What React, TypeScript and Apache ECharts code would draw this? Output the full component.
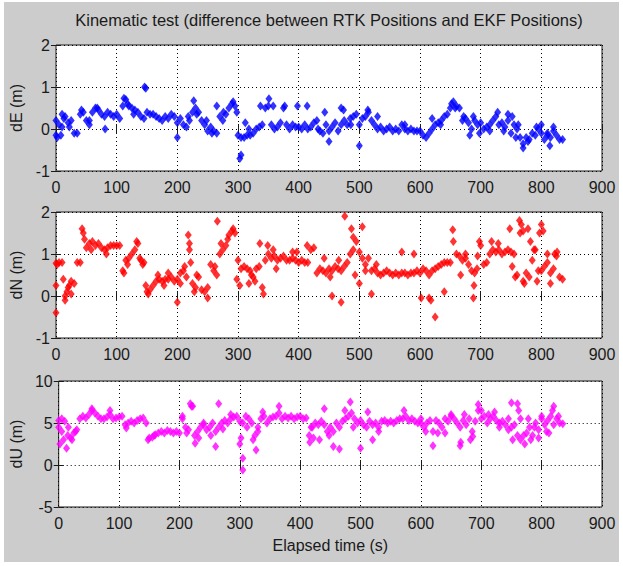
import React, { useEffect, useRef } from "react";
import * as echarts from "echarts";

// Sampling of the main track: one reading every 5 s from 0 to 835 s
const SAMPLE_STEP = 5;
const SAMPLE_COUNT = 168;
const TIME = Array.from({ length: SAMPLE_COUNT }, (_, i) => i * SAMPLE_STEP);

// dE (m), main track
const DE = [
  -0.15, 0.1, 0.05, 0.3, 0.15, 0.2, -0.1, -0.1, 0.35, 0.4,
  0.2, 0.1, 0.4, 0.5, 0.45, 0.35, 0.3, 0.4, 0.35, 0.3,
  0.35, 0.25, 0.55, 0.7, 0.55, 0.5, 0.45, 0.4, 0.3, 0.25,
  0.4, 0.35, 0.35, 0.3, 0.25, 0.2, 0.3, 0.25, 0.35, 0.3,
  0.15, 0.25, 0.1, 0.05, 0.2, 0.4, 0.5, 0.4, 0.2, 0.1,
  -0.05, 0.05, -0.05, -0.1, 0.3, 0.2, 0.35, 0.5, 0.6, 0.55,
  -0.15, -0.2, -0.2, -0.15, -0.15, -0.1, 0.0, 0.05, 0.1, 0.5,
  0.55, 0.1, 0.0, 0.05, 0.15, 0.5, 0.1, 0.0, 0.1, 0.05,
  0.05, 0.0, 0.1, 0.0, 0.05, 0.15, 0.2, -0.05, -0.1, 0.1,
  -0.05, 0.05, 0.15, -0.05, 0.1, 0.2, 0.1, 0.25, 0.3, 0.35,
  0.1, 0.25, 0.3, 0.4, 0.2, 0.1, 0.0, 0.05, -0.05, 0.0,
  0.05, -0.05, 0.0, -0.05, 0.1, 0.0, -0.05, 0.0, -0.05, -0.05,
  -0.05, -0.15, -0.2, -0.1, 0.0, 0.1, 0.15, 0.2, 0.3, 0.35,
  0.5, 0.65, 0.55, 0.5, 0.2, 0.25, 0.15, 0.0, 0.2, 0.1,
  0.15, 0.0, 0.05, 0.1, 0.2, 0.3, 0.1, 0.15, 0.05, 0.2,
  -0.1, 0.1, 0.0, -0.2, -0.35, -0.2, -0.25, -0.1, -0.15, 0.0,
  -0.1, -0.25, -0.15, -0.2, -0.05, -0.15, -0.25, -0.25,
];

// dE (m), scattered readings [time, value]
const DE_EXTRA: [number, number][] = [
  [0, 0.2], [2, -0.2], [8, -0.15], [10, 0.35], [13, 0.25], [22, 0.05], [42, 0.45],
  [55, 0.2], [68, 0.5], [81, 0.0], [112, 0.73], [118, 0.6], [128, 0.35], [146, 1.0],
  [148, 0.97], [200, -0.2], [218, 0.3], [227, 0.67], [232, 0.35], [248, 0.2],
  [257, -0.1], [265, 0.55], [276, 0.4], [292, 0.65], [298, 0.4], [303, -0.7],
  [305, -0.62], [312, 0.15], [318, 0.0], [337, 0.55], [351, 0.72], [358, 0.55],
  [377, 0.55], [398, 0.55], [414, 0.55], [432, 0.0], [443, 0.4], [450, -0.3],
  [470, 0.5], [474, 0.45], [486, 0.1], [500, -0.4], [514, 0.45], [530, 0.3],
  [575, 0.1], [620, 0.25], [634, 0.1], [652, 0.6], [658, 0.5], [672, 0.3],
  [682, -0.15], [688, 0.3], [698, -0.1], [715, -0.05], [728, 0.4], [738, -0.05],
  [745, 0.35], [752, 0.3], [758, -0.2], [762, 0.1], [770, -0.45], [778, -0.3],
  [792, 0.05], [800, 0.1], [810, -0.1], [814, -0.4], [820, 0.05],
];

// dN (m), main track
const DN = [
  0.78, 0.8, 0.8, 0.0, 0.2, 0.35, 0.3, 0.8, 0.8, 1.5,
  1.15, 1.25, 1.3, 1.2, 1.25, 1.15, 1.1, 1.15, 1.2, 1.2,
  1.2, 1.2, 0.6, 0.85, 0.9, 1.0, 1.1, 1.25, 0.85, 0.8,
  0.1, 0.15, 0.25, 0.35, 0.4, 0.35, 0.4, 0.4, 0.45, 0.35,
  0.4, 0.55, 0.6, 0.45, 1.1, 0.3, 0.2, 0.45, 0.15, 0.1,
  0.2, 0.75, 0.6, 0.5, 1.0, 1.1, 1.2, 1.45, 1.55, 1.5,
  0.85, 0.65, 0.7, 0.65, 0.6, 0.45, 0.65, 0.7, 0.2, 0.85,
  1.0, 0.9, 0.95, 0.85, 0.9, 0.95, 0.85, 0.85, 0.9, 0.85,
  0.8, 0.85, 0.8, 0.8, 1.1, 1.15, 0.55, 0.65, 0.6, 0.55,
  0.65, 0.6, 0.7, 0.65, 0.6, 0.7, 0.8, 1.0, 1.1, 1.3,
  1.05, 0.9, 0.75, 0.9, 0.6, 0.65, 0.55, 0.5, 0.55, 0.6,
  0.55, 0.5, 0.55, 0.5, 0.55, 0.55, 0.5, 0.55, 0.55, 0.6,
  0.55, 0.65, 0.6, 0.5, 0.6, 0.65, 0.7, 0.75, 0.8, 0.8,
  0.8, 1.3, 1.0, 0.95, 0.85, 0.9, 0.75, 0.6, 0.55, 0.95,
  1.2, 0.75, 0.8, 1.0, 1.1, 1.05, 1.1, 1.0, 1.05, 1.1,
  1.05, 1.0, 0.5, 1.5, 0.35, 0.55, 0.45, 0.85, 1.1, 0.6,
  0.6, 0.7, 0.8, 0.55, 0.65, 0.95, 0.45, 0.4,
];

// dN (m), scattered readings [time, value]
const DN_EXTRA: [number, number][] = [
  [0, 0.25], [0, -0.4], [2, 0.75], [12, 0.4], [15, -0.1], [18, 0.1], [22, 0.25],
  [25, 0.05], [43, 1.6], [47, 1.35], [58, 1.1], [83, 1.0], [112, 0.55], [118, 0.75],
  [133, 1.3], [138, 0.9], [143, 0.75], [148, 0.25], [152, 0.05], [168, 0.5],
  [178, 0.25], [185, 0.55], [200, -0.15], [205, 0.3], [212, 0.7], [218, 1.45],
  [220, 1.25], [222, 0.8], [228, 0.1], [232, 0.5], [250, -0.05], [262, 0.7],
  [266, 1.78], [272, 1.25], [283, 1.35], [292, 1.6], [298, 0.4], [303, 0.25],
  [318, 0.3], [322, 0.5], [328, 0.35], [336, 1.25], [342, 0.05], [349, 1.2],
  [358, 1.1], [363, 0.65], [390, 1.05], [397, 1.05], [414, 1.2], [442, 0.9],
  [452, 0.45], [455, 0.0], [466, 0.85], [470, -0.15], [476, 1.9], [487, 1.6],
  [490, 1.4], [493, 0.5], [500, 0.3], [505, 1.65], [510, 0.6], [520, 0.05],
  [528, 0.75], [570, 1.05], [590, 1.0], [602, -0.05], [615, -0.05], [618, -0.1],
  [625, -0.5], [640, 0.1], [654, 1.58], [667, 0.5], [675, 1.0], [688, -0.05],
  [689, 0.25], [694, 0.65], [698, 1.3], [718, 1.3], [729, 1.25], [748, 1.6],
  [752, 0.7], [757, 0.45], [764, 1.8], [767, 1.7], [770, 1.55], [772, 0.3],
  [778, 1.6], [782, 1.3], [788, 1.1], [793, 0.35], [797, 1.5], [800, 1.7],
  [803, 1.55], [810, 1.0], [815, 0.3], [822, 1.0], [826, 1.05],
];

// dU (m), main track
const DU = [
  5.3, 4.0, 5.2, 3.5, 3.2, 3.8, 4.2, 5.5, 5.8, 5.6,
  6.0, 6.5, 6.2, 5.8, 5.5, 5.5, 5.7, 6.0, 5.5, 5.6,
  5.7, 5.8, 4.8, 5.0, 5.2, 5.0, 5.3, 5.5, 5.6, 5.0,
  3.2, 3.3, 3.6, 3.8, 4.0, 3.8, 4.1, 4.0, 3.8, 4.0,
  3.8, 5.5, 4.5, 4.2, 7.0, 3.5, 4.0, 4.5, 4.8, 4.2,
  4.5, 5.0, 4.0, 4.5, 5.0, 5.3, 5.0, 5.5, 5.7, 5.8,
  5.2, 5.0, 5.8, 5.5, 5.0, 3.5, 4.5, 5.5, 5.8, 5.0,
  5.5, 5.7, 5.8, 6.2, 5.5, 5.8, 5.6, 5.8, 5.5, 5.7,
  5.8, 5.5, 5.6, 3.5, 4.5, 5.0, 4.8, 5.2, 4.8, 4.0,
  4.5, 4.0, 5.0, 4.5, 5.2, 5.5, 5.8, 6.2, 5.5, 5.0,
  5.3, 4.8, 4.5, 5.2, 4.8, 5.0, 4.5, 5.2, 5.3, 5.0,
  5.2, 5.0, 5.3, 5.5, 5.5, 5.8, 5.3, 5.5, 5.2, 5.0,
  5.0, 4.5, 5.0, 5.3, 4.0, 5.3, 5.0, 4.5, 5.5, 5.2,
  5.8, 5.5, 5.0, 4.5, 5.3, 4.8, 5.5, 4.0, 5.2, 6.5,
  5.5, 5.8, 5.0, 5.5, 5.8, 5.3, 5.0, 5.2, 4.8, 5.5,
  4.5, 4.8, 3.5, 5.5, 3.5, 3.8, 4.5, 3.5, 5.0, 4.2,
  5.5, 4.8, 5.3, 5.8, 4.8, 5.5, 5.0, 4.9,
];

// dU (m), scattered readings [time, value]
const DU_EXTRA: [number, number][] = [
  [0, 4.5], [2, 2.5], [5, 5.5], [8, 3.0], [13, 2.0], [16, 4.5], [22, 3.0], [28, 4.0],
  [55, 6.7], [85, 6.5], [112, 4.4], [148, 3.0], [158, 3.5], [205, 5.8], [212, 3.8],
  [218, 7.3], [222, 7.0], [226, 2.6], [232, 3.2], [240, 5.0], [252, 3.5], [260, 2.2],
  [265, 7.3], [272, 4.3], [285, 6.0], [300, 2.5], [302, 3.2], [305, 0.8], [305, -0.6],
  [312, 4.5], [322, 3.0], [327, 1.8], [330, 4.0], [338, 6.3], [365, 7.0], [416, 2.7],
  [418, 4.5], [422, 3.2], [432, 3.0], [440, 6.7], [448, 3.5], [455, 2.2], [465, 1.9],
  [474, 6.5], [483, 7.5], [488, 4.5], [500, 2.0], [512, 6.3], [520, 3.0], [530, 4.0],
  [572, 6.5], [600, 5.5], [608, 4.0], [620, 2.3], [628, 3.8], [640, 3.8], [650, 6.0],
  [665, 2.3], [666, 2.7], [672, 6.0], [682, 3.0], [686, 3.4], [695, 7.2], [700, 6.5],
  [712, 6.0], [722, 6.3], [730, 4.5], [745, 4.2], [750, 7.4], [752, 3.0], [760, 7.3],
  [762, 6.5], [765, 3.0], [772, 2.5], [778, 5.5], [782, 3.0], [788, 4.5], [795, 3.2],
  [800, 5.8], [808, 4.0], [812, 3.8], [818, 6.5], [820, 7.0], [828, 5.8],
];

const PANELS = [
  { name: "dE (m)", values: DE, extra: DE_EXTRA, color: "#0000ff", min: -1, max: 2, interval: 1 },
  { name: "dN (m)", values: DN, extra: DN_EXTRA, color: "#ff0000", min: -1, max: 2, interval: 1 },
  { name: "dU (m)", values: DU, extra: DU_EXTRA, color: "#ff00ff", min: -5, max: 10, interval: 5 },
];

const TITLE = "Kinematic test (difference between RTK Positions and EKF Positions)";
const X_NAME = "Elapsed time (s)";
const X_MIN = 0;
const X_MAX = 900;
const X_STEP = 100;

const FONT = "'Liberation Sans', Arial, Helvetica, sans-serif";
const INK = "#1a1a1a";
const PLOT_LEFT = 56;
const PLOT_WIDTH = 546;
const PLOT_HEIGHT = 126;
const PLOT_TOPS = [45, 212, 381];

export default function App() {
  const ref = useRef<HTMLDivElement>(null);

  useEffect(() => {
    if (!ref.current) return;
    const chart = echarts.init(ref.current, undefined, { renderer: "svg" });

    const grids = PLOT_TOPS.map((top) => ({
      left: PLOT_LEFT,
      top,
      width: PLOT_WIDTH,
      height: PLOT_HEIGHT,
      show: true,
      backgroundColor: "#ffffff",
      borderColor: INK,
      borderWidth: 1,
    }));

    const tickStyle = { show: true, inside: true, length: 5, lineStyle: { color: INK, width: 1 } };
    const gridLine = { show: true, lineStyle: { color: "#000", width: 1, type: [1, 3] as number[] } };
    const labelStyle = { color: INK, fontFamily: FONT, fontSize: 16 };
    const nameStyle = { color: INK, fontFamily: FONT, fontSize: 16 };

    const xAxes: any[] = [];
    const yAxes: any[] = [];
    PANELS.forEach((p, i) => {
      xAxes.push({
        type: "value",
        gridIndex: i,
        position: "bottom",
        min: X_MIN,
        max: X_MAX,
        interval: X_STEP,
        axisLine: { show: false },
        axisTick: tickStyle,
        splitLine: gridLine,
        axisLabel: { ...labelStyle, margin: 8 },
        ...(i === PANELS.length - 1
          ? { name: X_NAME, nameLocation: "middle", nameGap: 30, nameTextStyle: nameStyle }
          : {}),
      });
      yAxes.push({
        type: "value",
        gridIndex: i,
        position: "left",
        min: p.min,
        max: p.max,
        interval: p.interval,
        axisLine: { show: false },
        axisTick: tickStyle,
        splitLine: gridLine,
        axisLabel: { ...labelStyle, margin: 6 },
        name: p.name,
        nameLocation: "middle",
        nameRotate: 90,
        nameGap: 22,
        nameTextStyle: nameStyle,
      });
    });
    // mirrored ticks on the top and right edges of each box
    PANELS.forEach((p, i) => {
      xAxes.push({
        type: "value",
        gridIndex: i,
        position: "top",
        min: X_MIN,
        max: X_MAX,
        interval: X_STEP,
        axisLine: { show: false },
        axisTick: tickStyle,
        splitLine: { show: false },
        axisLabel: { show: false },
      });
      yAxes.push({
        type: "value",
        gridIndex: i,
        position: "right",
        min: p.min,
        max: p.max,
        interval: p.interval,
        axisLine: { show: false },
        axisTick: tickStyle,
        splitLine: { show: false },
        axisLabel: { show: false },
      });
    });

    const series = PANELS.map((p, i) => ({
      type: "scatter",
      xAxisIndex: i,
      yAxisIndex: i,
      symbol: "diamond",
      symbolSize: [7, 9],
      itemStyle: { color: p.color },
      data: TIME.map((t, k) => [t, p.values[k]]).concat(p.extra),
    }));

    chart.setOption({
      animation: false,
      backgroundColor: "#ffffff",
      graphic: [
        {
          type: "rect",
          z: -10,
          silent: true,
          shape: { x: 4, y: 2, width: 615, height: 560 },
          style: { fill: "#cccccc" },
        },
        {
          // title centred over the plot boxes
          type: "text",
          x: PLOT_LEFT + PLOT_WIDTH / 2,
          y: 11,
          silent: true,
          style: {
            text: TITLE,
            textAlign: "center",
            textVerticalAlign: "top",
            fill: INK,
            fontFamily: FONT,
            fontSize: 16.5,
          },
        },
      ],
      grid: grids,
      xAxis: xAxes,
      yAxis: yAxes,
      series,
    });

    return () => chart.dispose();
  }, []);

  return (
    <div
      ref={ref}
      style={{ position: "fixed", left: 0, top: 0, width: 623, height: 566 }}
    />
  );
}
